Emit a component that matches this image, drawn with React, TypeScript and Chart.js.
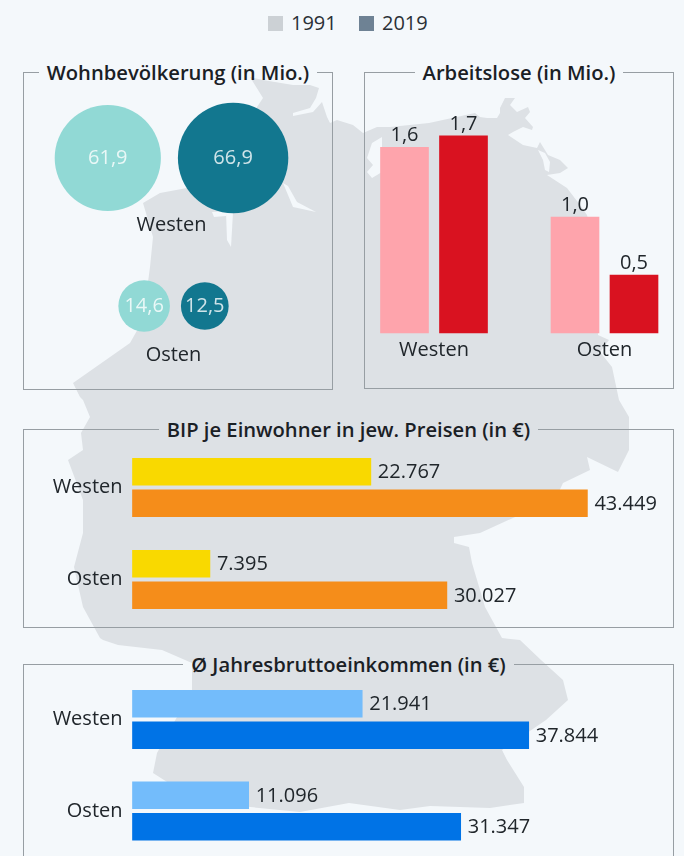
import React, { useEffect, useRef } from "react";
import { Chart, registerables } from "chart.js";

Chart.register(...registerables);

const years = ["1991", "2019"];
const regions = ["Westen", "Osten"];
const population1991 = [61.9, 14.6];
const population2019 = [66.9, 12.5];
const unemployed1991 = [1.6, 1.0];
const unemployed2019 = [1.7, 0.5];
const gdp1991 = [22767, 7395];
const gdp2019 = [43449, 30027];
const income1991 = [21941, 11096];
const income2019 = [37844, 31347];

const FONT = "'Open Sans', sans-serif";
const TEXT = "#20262b";
const SIZE = 20;
const LINE = "#979ea3";
const BG = "#f4f8fb";
const MAP = "#dde1e5";

const MAP_PATH =
  "M250,77 L263,80 L293,85 L310,85 L319,88 L316,98 L310,108 L293,113 L293,116 L313,112 L322,102 L327,117 L330,123 L337,120 L353,125 L363,133 L377,127 L390,127 L429,123 L475,113 L480,117 L487,118 L497,118 L500,113 L500,108 L505,98 L515,98 L510,105 L517,112 L528,107 L530,112 L525,118 L533,127 L532,130 L523,127 L513,132 L508,135 L523,145 L537,148 L540,142 L548,155 L560,160 L568,168 L560,173 L547,175 L567,188 L580,205 L587,215 L596,250 L598,335 L609,340 L600,352 L612,367 L619,400 L629,417 L629,450 L618,472 L587,457 L590,470 L563,483 L555,500 L524,513 L480,533 L454,537 L454,543 L469,547 L472,563 L485,607 L502,638 L520,640 L541,660 L563,680 L568,700 L546,720 L502,750 L507,760 L524,787 L524,803 L490,808 L430,806 L400,810 L349,803 L300,812 L240,806 L175,787 L153,773 L157,753 L192,690 L192,663 L162,650 L118,645 L103,640 L100,638 L83,607 L74,567 L83,533 L83,500 L68,460 L83,450 L81,433 L90,417 L83,400 L80,397 L73,383 L130,343 L143,320 L150,267 L153,237 L143,203 L160,193 L187,188 L215,170 L263,98 Z";
// Bays and river mouths cut out of the silhouette.
const MAP_CUTS = [
  "M382,137 L372,143 L367,158 L373,165 L367,172 L372,178 L382,172 Z",
  "M283,183 L288,186 L297,202 L316,212 L293,207 Z",
  "M226,212 L233,212 L232,230 L231,247 L227,240 Z",
  "M212,212 L226,211 L226,216 L214,217 Z",
  "M538,150 L545,153 L550,162 L549,172 L545,170 L543,160 Z",
];

const fmtComma = (v: number) => v.toFixed(1).replace(".", ",");
const fmtThousand = (v: number) => String(v).replace(/\B(?=(\d{3})+$)/g, ".");

// Writes each bar's value next to its end.
const valueLabels = (format: (v: number) => string) => ({
  id: "valueLabels",
  afterDatasetsDraw(chart: any) {
    const { ctx } = chart;
    const horizontal = chart.options.indexAxis === "y";
    ctx.save();
    ctx.font = `${SIZE}px ${FONT}`;
    ctx.fillStyle = TEXT;
    chart.data.datasets.forEach((ds: any, d: number) => {
      chart.getDatasetMeta(d).data.forEach((el: any, i: number) => {
        const text = format(ds.data[i]);
        if (horizontal) {
          ctx.textAlign = "left";
          ctx.textBaseline = "middle";
          ctx.fillText(text, el.x + 7, el.y + 1);
        } else {
          ctx.textAlign = "center";
          ctx.textBaseline = "alphabetic";
          ctx.fillText(text, el.x, el.y - 6);
        }
      });
    });
    ctx.restore();
  },
});

// Bubble radius follows the square root of the value; each row's pair is centred.
const radiusOf = (v: number) => 6.75 * Math.sqrt(v);
const rowCentres = [147.5, 149.5];
const rowGaps = [17, 11];
const captionOffset = [67, 49];
const BUBBLE_INSET = 60;

const bubbleData = (i: number) => {
  const a = radiusOf(population1991[i]);
  const b = radiusOf(population2019[i]);
  const span = 2 * a + 2 * b + rowGaps[i];
  const left = rowCentres[i] - span / 2;
  return [
    { x: left + a, y: regions[i], r: a, v: population1991[i] },
    { x: left + 2 * a + rowGaps[i] + b, y: regions[i], r: b, v: population2019[i] },
  ];
};

const bubbleLabels = {
  id: "bubbleLabels",
  afterDatasetsDraw(chart: any) {
    const { ctx } = chart;
    ctx.save();
    ctx.font = `${SIZE}px ${FONT}`;
    ctx.textAlign = "center";
    ctx.textBaseline = "middle";
    chart.data.datasets.forEach((ds: any, d: number) => {
      chart.getDatasetMeta(d).data.forEach((el: any, i: number) => {
        ctx.fillStyle = "rgba(255,255,255,0.8)";
        ctx.fillText(fmtComma(ds.data[i].v), el.x, el.y);
      });
    });
    ctx.fillStyle = TEXT;
    regions.forEach((name, i) => {
      const y = chart.scales.y.getPixelForValue(i);
      ctx.fillText(name, chart.scales.x.getPixelForValue(rowCentres[i]), y + captionOffset[i]);
    });
    ctx.restore();
  },
};

const base = (padding: any) => ({
  responsive: false,
  animation: false as const,
  events: [] as string[],
  layout: { padding },
  plugins: { legend: { display: false }, tooltip: { enabled: false }, title: { display: false } },
});

const hBarConfig = (
  first: number[],
  second: number[],
  colors: string[],
  top: number,
  bottom: number,
) => ({
  type: "bar" as const,
  data: {
    labels: regions,
    datasets: [
      { label: years[0], data: first, backgroundColor: colors[0], clip: false },
      { label: years[1], data: second, backgroundColor: colors[1], clip: false },
    ],
  },
  options: {
    ...base({ left: 0, right: 16, top, bottom }),
    indexAxis: "y",
    barThickness: 31.5,
    maxBarThickness: 27,
    scales: {
      x: { display: false, min: 0, max: 50000 },
      y: {
        offset: false,
        grid: { display: false, drawTicks: false },
        border: { display: false },
        afterFit: (s: any) => {
          s.width = 108.5;
        },
        ticks: { padding: 10, color: TEXT, font: { family: FONT, size: SIZE }, autoSkip: false },
      },
    },
  },
  plugins: [valueLabels(fmtThousand)],
});

const vBarConfig = {
  type: "bar" as const,
  data: {
    labels: regions,
    datasets: [
      { label: years[0], data: unemployed1991, backgroundColor: "#fea4ac", clip: false },
      { label: years[1], data: unemployed2019, backgroundColor: "#d91220", clip: false },
    ],
  },
  options: {
    ...base({ left: 69, right: 67.5, top: 11, bottom: 0 }),
    barThickness: 59,
    maxBarThickness: 48,
    scales: {
      y: { display: false, min: 0, max: 2 },
      x: {
        offset: false,
        grid: { display: false, drawTicks: false },
        border: { display: false },
        afterFit: (s: any) => {
          s.height = 54;
        },
        ticks: {
          padding: 5.5,
          color: TEXT,
          font: { family: FONT, size: SIZE },
          autoSkip: false,
          maxRotation: 0,
        },
      },
    },
  },
  plugins: [valueLabels(fmtComma)],
};

const bubbleConfig = {
  type: "bubble" as const,
  data: {
    datasets: [
      {
        label: years[0],
        data: [bubbleData(0)[0], bubbleData(1)[0]],
        backgroundColor: "#91d9d5",
        borderWidth: 0,
        clip: false,
      },
      {
        label: years[1],
        data: [bubbleData(0)[1], bubbleData(1)[1]],
        backgroundColor: "#12778f",
        borderWidth: 0,
        clip: false,
      },
    ],
  },
  options: {
    ...base({ left: BUBBLE_INSET, right: BUBBLE_INSET, top: 85, bottom: 82 }),
    scales: {
      x: { type: "linear", display: false, min: BUBBLE_INSET, max: 308 - BUBBLE_INSET },
      y: { type: "category", labels: regions, offset: false, display: false },
    },
  },
  plugins: [bubbleLabels],
};

function ChartCanvas({ config, box }: { config: any; box: number[] }) {
  const ref = useRef<HTMLCanvasElement | null>(null);
  useEffect(() => {
    const chart = new Chart(ref.current as HTMLCanvasElement, config);
    return () => chart.destroy();
  }, [config]);
  const [left, top, width, height] = box;
  return (
    <canvas
      ref={ref}
      width={width}
      height={height}
      style={{ position: "absolute", left, top, width, height }}
    />
  );
}

function Panel({ title, box }: { title: string; box: number[] }) {
  const [left, top, width, height] = box;
  return (
    <fieldset
      style={{
        position: "absolute",
        left,
        top,
        width,
        height,
        boxSizing: "border-box",
        margin: 0,
        padding: 0,
        border: `1.5px solid ${LINE}`,
      }}
    >
      <legend
        style={{
          margin: "0 auto",
          padding: "0 8px",
          fontFamily: FONT,
          fontWeight: 600,
          fontSize: 20.2,
          lineHeight: "24px",
          color: "#1a2025",
          whiteSpace: "nowrap",
        }}
      >
        {title}
      </legend>
    </fieldset>
  );
}

const gdpConfig = hBarConfig(gdp1991, gdp2019, ["#f9d900", "#f58d1a"], 47.5, 45.5);
const incomeConfig = hBarConfig(income1991, income2019, ["#73bcfb", "#0073e6"], 44.5, 45);

export default function App() {
  return (
    <div
      style={{
        position: "relative",
        width: 684,
        height: 856,
        overflow: "hidden",
        background: BG,
      }}
    >
      <style>{"html,body{margin:0;padding:0;overflow:hidden}"}</style>
      <svg width={684} height={856} style={{ position: "absolute", left: 0, top: 0 }}>
        <path d={MAP_PATH} fill={MAP} />
        {MAP_CUTS.map((d) => (
          <path key={d} d={d} fill={BG} />
        ))}
      </svg>

      {years.map((y, i) => (
        <div key={y}>
          <div
            style={{
              position: "absolute",
              left: i === 0 ? 268 : 359,
              top: 16,
              width: 15,
              height: 15,
              background: i === 0 ? "#ccd1d5" : "#6e8294",
            }}
          />
          <div
            style={{
              position: "absolute",
              left: i === 0 ? 291 : 382,
              top: 9,
              fontFamily: FONT,
              fontSize: SIZE,
              lineHeight: "27px",
              color: "#2a3036",
            }}
          >
            {y}
          </div>
        </div>
      ))}

      <Panel title="Wohnbevölkerung (in Mio.)" box={[23, 60, 310, 330]} />
      <Panel title="Arbeitslose (in Mio.)" box={[364, 60, 310, 329]} />
      <Panel title="BIP je Einwohner in jew. Preisen (in €)" box={[23, 417, 651, 211]} />
      <Panel title="Ø Jahresbruttoeinkommen (in €)" box={[23, 652, 651, 300]} />

      <ChartCanvas config={bubbleConfig} box={[24, 73, 308, 315]} />
      <ChartCanvas config={vBarConfig} box={[365, 90, 307, 297]} />
      <ChartCanvas config={gdpConfig} box={[24, 440, 648, 185]} />
      <ChartCanvas config={incomeConfig} box={[24, 675, 648, 181]} />
    </div>
  );
}
